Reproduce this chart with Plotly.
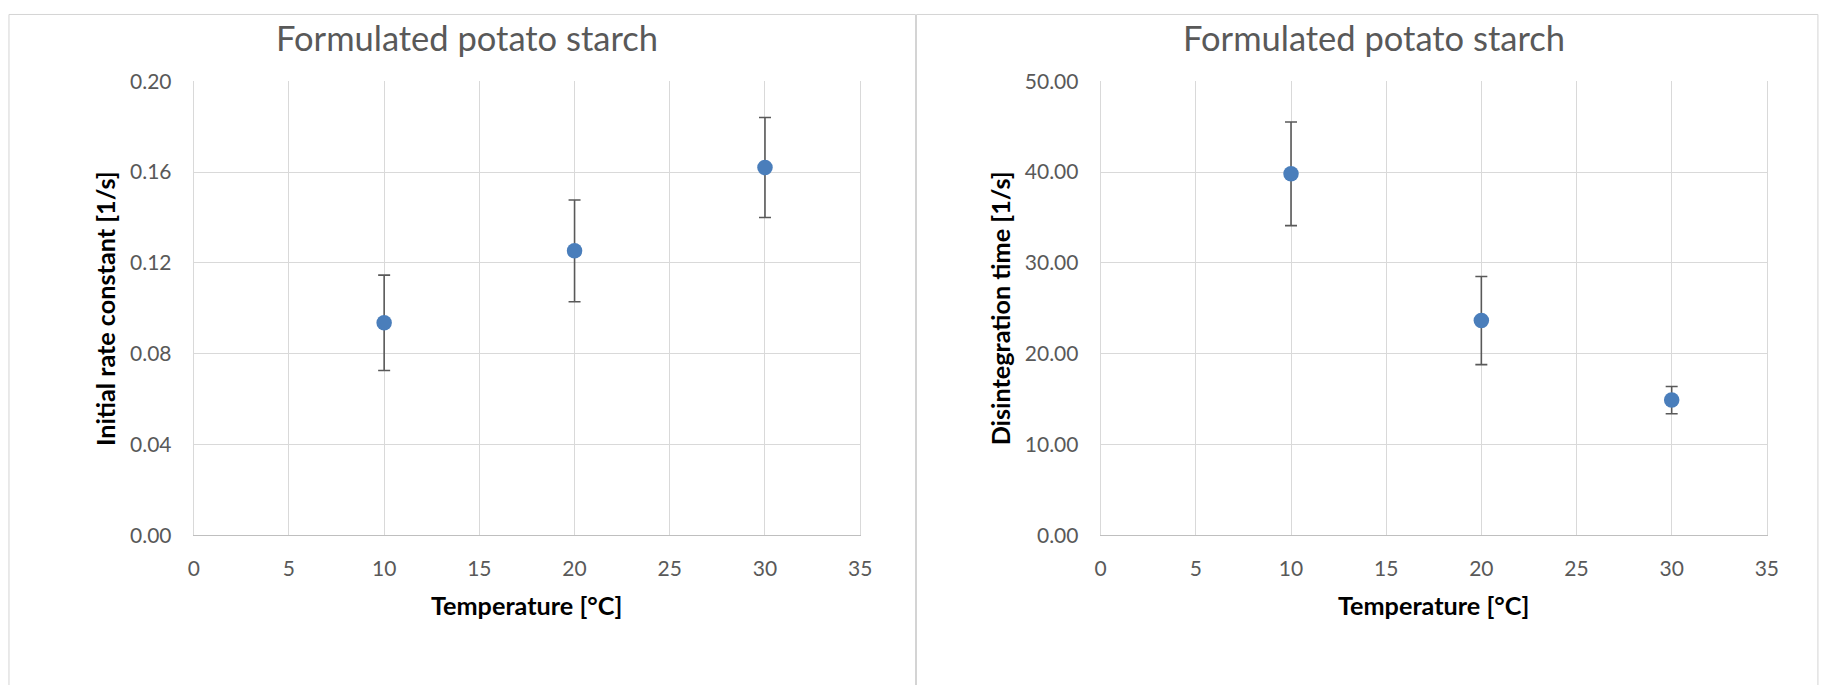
import plotly.graph_objects as go

W, H = 1823, 685

temperature = [10, 20, 30]
rate_constant = [0.0936, 0.1253, 0.1620]
rate_constant_err = [0.0210, 0.0224, 0.0220]
disintegration_time = [39.8, 23.65, 14.9]
disintegration_err = [5.7, 4.85, 1.5]

chart_title = "Formulated potato starch"
x_title = "Temperature [°C]"
y_title_left = "Initial rate constant [1/s]"
y_title_right = "Disintegration time [1/s]"

FONT = "Lato"
BLUE = "#4A7EBB"
ERR = "#595959"
GRID = "#D9D9D9"
TXT = "#595959"


def px_x(p):
    return p / W


def px_y(p):
    return 1 - p / H


fig = go.Figure()

fig.add_trace(go.Scatter(
    x=temperature, y=rate_constant, mode="markers",
    marker=dict(color=BLUE, size=15.5),
    error_y=dict(type="data", array=rate_constant_err, color=ERR, thickness=1.6, width=6),
    xaxis="x", yaxis="y", showlegend=False,
))
fig.add_trace(go.Scatter(
    x=temperature, y=disintegration_time, mode="markers",
    marker=dict(color=BLUE, size=15.5),
    error_y=dict(type="data", array=disintegration_err, color=ERR, thickness=1.6, width=6),
    xaxis="x2", yaxis="y2", showlegend=False,
))

y_dom = [px_y(541.2), px_y(69.7)]
common_x = dict(range=[0, 35], dtick=5, tick0=0, showgrid=True, gridcolor=GRID, gridwidth=1,
                zeroline=False, showline=True, linecolor="#BFBFBF", linewidth=1,
                tickfont=dict(family=FONT, size=21, color=TXT), ticks="",
                ticklabelstandoff=14, fixedrange=True)
common_y = dict(showgrid=True, gridcolor=GRID, gridwidth=1, zeroline=False,
                showline=True, linecolor=GRID, linewidth=1, mirror=True,
                tickformat=".2f", tickfont=dict(family=FONT, size=21, color=TXT), ticks="",
                ticklabelstandoff=17, fixedrange=True)

fig.update_layout(
    width=W, height=H, autosize=False,
    margin=dict(l=0, r=0, t=0, b=0),
    paper_bgcolor="white", plot_bgcolor="white",
    xaxis=dict(domain=[px_x(189.6), px_x(862.7)], anchor="y", **common_x),
    yaxis=dict(domain=y_dom, anchor="x", range=[0, 0.2], dtick=0.04, tick0=0, **common_y),
    xaxis2=dict(domain=[px_x(1105.6), px_x(1778.4)], anchor="y2", **common_x),
    yaxis2=dict(domain=y_dom, anchor="x2", range=[0, 50], dtick=10, tick0=0, **common_y),
)

# chart area borders
for x0, x1 in [(3.0, 918.6), (919.6, 1830)]:
    fig.add_shape(type="rect", xref="paper", yref="paper",
                  x0=px_x(x0), x1=px_x(x1), y0=-0.2, y1=px_y(0.5),
                  line=dict(color="#D4D4D4", width=1), fillcolor="rgba(0,0,0,0)", layer="below")

ann = []
for cx in [465.2, 1381.6]:
    ann.append(dict(text=chart_title, x=px_x(cx), y=px_y(24.8), xref="paper", yref="paper",
                    xanchor="center", yanchor="middle", showarrow=False,
                    font=dict(family=FONT, size=34.5, color=TXT)))
for cx in [525.8, 1441.6]:
    ann.append(dict(text=f"<b>{x_title}</b>", x=px_x(cx), y=px_y(613.5), xref="paper", yref="paper",
                    xanchor="center", yanchor="middle", showarrow=False,
                    font=dict(family=FONT, size=25.2, color="#000000")))
for cx, t in [(100.7, y_title_left), (1003.9, y_title_right)]:
    ann.append(dict(text=f"<b>{t}</b>", x=px_x(cx), y=px_y(305.5), xref="paper", yref="paper",
                    xanchor="center", yanchor="middle", showarrow=False, textangle=-90,
                    font=dict(family=FONT, size=25.2, color="#000000")))
fig.update_layout(annotations=ann)

post = (
    "var gd=document.getElementById('{plot_id}');"
    "gd.style.position='fixed';gd.style.top='0px';gd.style.left='0px';"
    "document.body.style.margin='0';"
    "document.documentElement.style.overflow='hidden';document.body.style.overflow='hidden';"
)
fig.write_html("out.html", config={"displayModeBar": False}, post_script=post)
